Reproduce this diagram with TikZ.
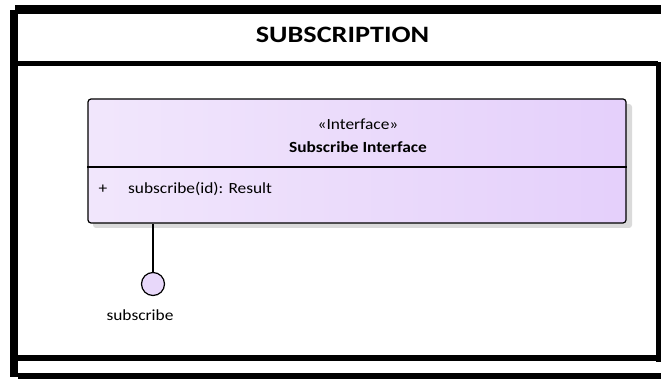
\documentclass[tikz,border=0pt]{standalone}
\usepackage{fontspec}
\setmainfont{Carlito}
\newfontfamily\eafont[FakeStretch=1.12]{Carlito}
\newfontfamily\eatitle[FakeStretch=1.2]{Carlito}
\definecolor{shA}{RGB}{218,190,246}
\definecolor{shB}{RGB}{242,232,252}
\definecolor{shC}{RGB}{222,196,250}
\definecolor{shadowgrey}{RGB}{218,218,218}
\definecolor{portfill}{RGB}{232,216,250}
\pgfdeclarehorizontalshading{ifshade}{100bp}{color(0bp)=(shA); color(22bp)=(shB); color(100bp)=(shC)}
\tikzset{
  band/.style={fill=black, draw=none},
  classbox/.style={draw=black, line width=1.2pt, rounded corners=3pt, shading=ifshade, inner sep=0pt},
  portcircle/.style={circle, draw=black, line width=1.2pt, fill=portfill, inner sep=0pt, minimum size=23pt},
  boxtext/.style={font=\eafont\fontsize{15.5}{18}\selectfont, inner sep=0pt, anchor=base},
  boldtext/.style={font=\eafont\fontsize{15.5}{18}\selectfont\bfseries, inner sep=0pt, anchor=base},
  titletext/.style={font=\eatitle\fontsize{23.5}{28}\selectfont\bfseries, inner sep=0pt, anchor=base},
  link/.style={draw=black, line width=1.2pt}
}
\begin{document}
\begin{tikzpicture}[x=1pt, y=-1pt]
\useasboundingbox (0,0) rectangle (661,379);
\fill[white] (0,0) rectangle (661,379);
% frame
\fill[band] (15,5) rectangle (661,14);
\fill[band] (10,10) rectangle (18,377);
\fill[band] (18,61) rectangle (658,66);
\fill[band] (656,62) rectangle (661,362);
\fill[band] (18,355) rectangle (658,361);
\fill[band] (18,373) rectangle (661,379);
\node[titletext] (title) at (342.5,43) {SUBSCRIPTION};
% class box shadow
\fill[shadowgrey, rounded corners=3pt] (93,104) rectangle (632,228);
\node[classbox, minimum width=538pt, minimum height=124pt] (iface) at (357,161) {};
\draw[line width=1.2pt] (iface.west |- 0,167) -- (iface.east |- 0,167);
\node[boxtext] (stereo) at (358,130) {«Interface»};
\node[boldtext] (iname) at (358,153) {Subscribe Interface};
\node[boxtext] (vis) at (103,194) {+};
\node[boxtext, anchor=base west] (op) at (128,194) {subscribe(id): Result};
% port
\node[portcircle] (port) at (153,284) {};
\draw[link] (port.north) -- (port.north |- iface.south);
\node[boxtext] (plabel) at (140,320) {subscribe};
\end{tikzpicture}
\end{document}
